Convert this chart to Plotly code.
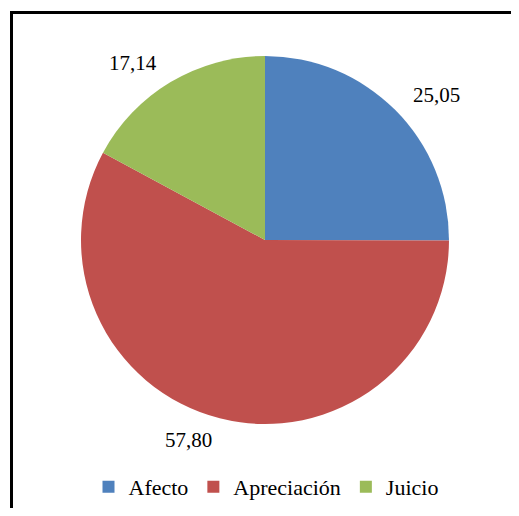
import math
import plotly.graph_objects as go

categories = ["Afecto", "Apreciación", "Juicio"]
values = [25.05, 57.80, 17.14]
colors = ["#4F81BD", "#C0504D", "#9BBB59"]

# page body has an 8px margin; figure coordinates are offset accordingly
OFF = 8
W, H = 519 - 2 * OFF, 516 - 2 * OFF
cx, cy, r = 265 - OFF, 240 - OFF, 184
FONT = "Liberation Serif"

fig = go.Figure(go.Pie(
    labels=categories, values=values, sort=False, direction="clockwise",
    rotation=0, marker=dict(colors=colors, line=dict(width=0)),
    textinfo="none", hoverinfo="label+value",
    domain=dict(x=[(cx - r) / W, (cx + r) / W], y=[1 - (cy + r) / H, 1 - (cy - r) / H]),
))

total = sum(values)
cum = 0
annotations = []
for v in values:
    mid = (cum + v / 2) / total * 2 * math.pi
    cum += v
    px = cx + 1.12 * r * math.sin(mid)
    py = cy - 1.12 * r * math.cos(mid)
    annotations.append(dict(
        x=px / W, y=1 - py / H, xref="paper", yref="paper",
        text=f"{v:.2f}".replace(".", ","), showarrow=False,
        xanchor="left" if math.sin(mid) > 0 else "right", yanchor="middle",
        font=dict(family=FONT, size=21, color="black"),
    ))

fig.update_layout(
    width=W, height=H, margin=dict(l=0, r=0, t=0, b=0),
    font=dict(family=FONT, size=21, color="black"),
    paper_bgcolor="white", plot_bgcolor="white",
    annotations=annotations,
    showlegend=True,
    legend=dict(orientation="h", x=(266 - OFF) / W, xanchor="center", y=0, yanchor="bottom",
                font=dict(family=FONT, size=22, color="black"),
                itemwidth=30, traceorder="normal"),
    shapes=[dict(type="rect", xref="paper", yref="paper",
                 x0=(11.5 - OFF) / W, x1=1.2, y0=-0.2, y1=1 - (12.5 - OFF) / H,
                 line=dict(color="black", width=3))],
)

fig.write_html("out.html")
